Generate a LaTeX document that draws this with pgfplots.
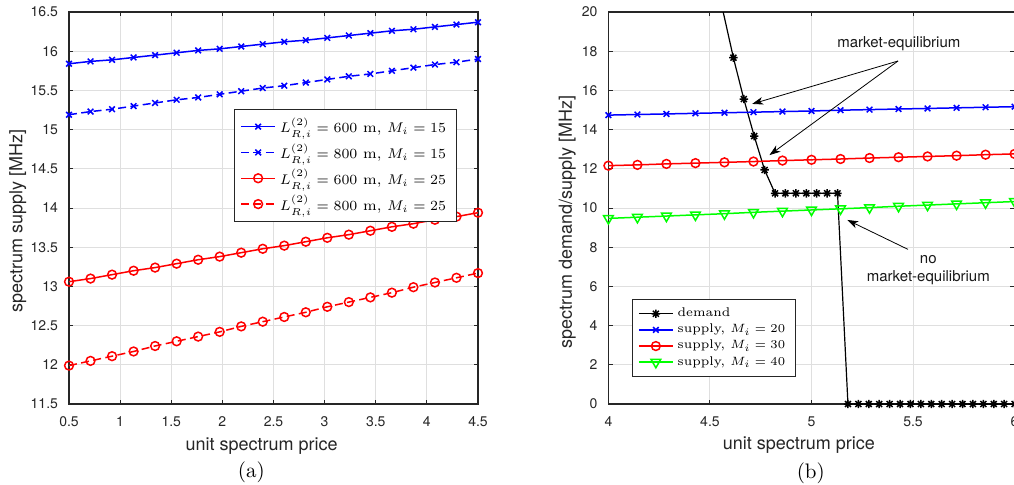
\documentclass[border=0pt]{standalone}
\usepackage{fontspec}
\usepackage{pgfplots}
\pgfplotsset{compat=1.18}
\usetikzlibrary{arrows.meta}
\newfontfamily\hel{TeX Gyre Heros}
\definecolor{axgray}{HTML}{262626}
\definecolor{gridgray}{HTML}{DFDFDF}
\definecolor{mblue}{HTML}{0000FF}
\definecolor{mred}{HTML}{FF0000}
\definecolor{mgreen}{HTML}{00FF00}

% eight-spoke star as used for the demand curve
\pgfdeclareplotmark{mstar}{%
  \pgfpathmoveto{\pgfqpoint{-\pgfplotmarksize}{0pt}}%
  \pgfpathlineto{\pgfqpoint{\pgfplotmarksize}{0pt}}%
  \pgfpathmoveto{\pgfqpoint{0pt}{-\pgfplotmarksize}}%
  \pgfpathlineto{\pgfqpoint{0pt}{\pgfplotmarksize}}%
  \pgfpathmoveto{\pgfqpoint{-0.707\pgfplotmarksize}{-0.707\pgfplotmarksize}}%
  \pgfpathlineto{\pgfqpoint{0.707\pgfplotmarksize}{0.707\pgfplotmarksize}}%
  \pgfpathmoveto{\pgfqpoint{-0.707\pgfplotmarksize}{0.707\pgfplotmarksize}}%
  \pgfpathlineto{\pgfqpoint{0.707\pgfplotmarksize}{-0.707\pgfplotmarksize}}%
  \pgfusepathqstroke}

\pgfplotsset{
  mstyle/.style={
    scale only axis, height=196pt, anchor=south west,
    axis line style={axgray, line width=0.6pt},
    tick style={axgray, line width=0.5pt},
    tick align=inside, major tick length=2.2pt,
    grid=major, grid style={gridgray, line width=0.5pt},
    /pgf/number format/assume math mode=true,
    tick label style={font=\hel\fontsize{7}{8}\selectfont, text=axgray},
    xticklabel style={yshift=-3pt},
    yticklabel style={xshift=-2pt},
    label style={font=\hel\fontsize{9}{10}\selectfont, text=axgray},
    legend style={draw=axgray, line width=0.5pt, fill=white,
      font=\fontsize{7.3}{8.5}\selectfont, legend cell align=left},
  },
}
\tikzset{
  ann/.style={font=\hel\fontsize{7.5}{9.2}\selectfont, text=black!90},
  arr/.style={line width=0.4pt, -{Stealth[length=5.5pt,width=3.8pt,inset=1.6pt]}},
}

% left panel: supply vs unit price
\pgfplotstableread{
x      a      b      c      d
0.5000 15.84  15.19  13.06  11.99
0.7105 15.87  15.23  13.10  12.05
0.9211 15.89  15.26  13.15  12.11
1.1316 15.92  15.30  13.20  12.17
1.3421 15.95  15.34  13.24  12.24
1.5526 15.98  15.38  13.29  12.30
1.7632 16.01  15.41  13.34  12.36
1.9737 16.03  15.45  13.38  12.42
2.1842 16.06  15.49  13.43  12.49
2.3947 16.09  15.53  13.48  12.55
2.6053 16.12  15.56  13.52  12.61
2.8158 16.14  15.60  13.57  12.67
3.0263 16.17  15.64  13.62  12.74
3.2368 16.20  15.68  13.66  12.80
3.4474 16.23  15.71  13.71  12.86
3.6579 16.26  15.75  13.76  12.92
3.8684 16.28  15.79  13.80  12.99
4.0789 16.31  15.83  13.85  13.05
4.2895 16.34  15.86  13.89  13.11
4.5000 16.37  15.90  13.94  13.17
}\supplyA

% right panel: supply for M_i = 20, 30, 40
\pgfplotstableread{
x      s20    s30    s40
4.0000 14.74  12.16   9.47
4.1429 14.77  12.20   9.53
4.2857 14.80  12.25   9.59
4.4286 14.83  12.29   9.65
4.5714 14.86  12.33   9.71
4.7143 14.89  12.37   9.78
4.8571 14.92  12.42   9.84
5.0000 14.95  12.46   9.90
5.1429 14.99  12.50   9.96
5.2857 15.02  12.55  10.02
5.4286 15.05  12.59  10.09
5.5714 15.08  12.63  10.15
5.7143 15.11  12.67  10.21
5.8571 15.14  12.72  10.27
6.0000 15.17  12.76  10.33
}\supplyB

% demand, part above the axis (line only)
\pgfplotstableread{
x      dem
4.5128 22.60
4.5641 20.05
4.6154 17.67
}\demandtop

% demand inside the axis
\pgfplotstableread{
x      dem
4.6154 17.67
4.6667 15.56
4.7179 13.67
4.7692 11.94
4.8205 10.75
4.8718 10.75
4.9231 10.75
4.9744 10.75
5.0256 10.75
5.0769 10.75
5.1282 10.75
5.1795 0
5.2308 0
5.2821 0
5.3333 0
5.3846 0
5.4359 0
5.4872 0
5.5385 0
5.5897 0
5.6410 0
5.6923 0
5.7436 0
5.7949 0
5.8462 0
5.8974 0
5.9487 0
6.0000 0
}\demand

\begin{document}
\begin{tikzpicture}
\begin{axis}[mstyle, width=204.5pt, at={(34.5pt,40pt)},
  xmin=0.5, xmax=4.5, ymin=11.5, ymax=16.5,
  xtick={0.5,1,1.5,2,2.5,3,3.5,4,4.5},
  ytick={11.5,12,12.5,13,13.5,14,14.5,15,15.5,16,16.5},
  xlabel={unit spectrum price}, ylabel={spectrum supply [MHz]},
  xlabel style={at={(axis description cs:0.471,-0.107)}, anchor=center},
  ylabel style={at={(axis description cs:-0.125,0.467)}, anchor=center},
  legend style={at={(axis description cs:0.403,0.752)}, anchor=north west},
]
\addplot[mblue, line width=0.75pt, mark=x, mark size=2pt] table[x=x, y=a] {\supplyA};
\addlegendentry{$L_{R,i}^{(2)}=600$ m, $M_i=15$}
\addplot[mblue, line width=0.75pt, dash pattern=on 4pt off 2.2pt, mark=x, mark size=2pt, mark options={solid}] table[x=x, y=b] {\supplyA};
\addlegendentry{$L_{R,i}^{(2)}=800$ m, $M_i=15$}
\addplot[mred, line width=0.75pt, mark=o, mark size=2.2pt] table[x=x, y=c] {\supplyA};
\addlegendentry{$L_{R,i}^{(2)}=600$ m, $M_i=25$}
\addplot[mred, line width=0.75pt, dash pattern=on 4pt off 2.2pt, mark=o, mark size=2.2pt, mark options={solid}] table[x=x, y=d] {\supplyA};
\addlegendentry{$L_{R,i}^{(2)}=800$ m, $M_i=25$}
\end{axis}

\begin{axis}[mstyle, width=203.1pt, at={(304.2pt,40pt)},
  xmin=4, xmax=6, ymin=0, ymax=20,
  xtick={4,4.5,5,5.5,6}, ytick={0,2,4,6,8,10,12,14,16,18,20},
  xlabel={unit spectrum price}, ylabel={spectrum demand/supply [MHz]},
  xlabel style={at={(axis description cs:0.469,-0.106)}, anchor=center},
  ylabel style={at={(axis description cs:-0.101,0.465)}, anchor=center},
  legend style={at={(axis description cs:0.057,0.07)}, anchor=south west,
    font=\fontsize{6.3}{7.4}\selectfont, row sep=-1.8pt},
]
\addplot[black, line width=0.6pt, forget plot] table[x=x, y=dem] {\demandtop};
\addplot[black, line width=0.6pt, mark=mstar, mark size=2.1pt, mark options={line width=0.75pt}] table[x=x, y=dem] {\demand};
\addlegendentry{demand}
\addplot[mblue, line width=0.75pt, mark=x, mark size=2pt] table[x=x, y=s20] {\supplyB};
\addlegendentry{supply, $M_i=20$}
\addplot[mred, line width=0.75pt, mark=o, mark size=2.2pt] table[x=x, y=s30] {\supplyB};
\addlegendentry{supply, $M_i=30$}
\addplot[mgreen, line width=0.75pt, mark=triangle, mark size=2.8pt, mark options={rotate=180}] table[x=x, y=s40] {\supplyB};
\addlegendentry{supply, $M_i=40$}
% annotations
\node[ann] at (axis cs:5.43,18.40) {market-equilibrium};
\draw[arr] (axis cs:5.426,17.50) -- (axis cs:4.708,15.31);
\draw[arr] (axis cs:5.426,17.50) -- (axis cs:4.793,12.70);
\node[ann, align=center] at (axis cs:5.575,6.83) {no\\market-equilibrium};
\draw[arr] (axis cs:5.475,7.89) -- (axis cs:5.176,9.39);
\end{axis}

\node[font=\fontsize{10.5}{12}\selectfont] at (125.7pt,5.8pt) {(a)};
\node[font=\fontsize{10.5}{12}\selectfont] at (405.4pt,5.3pt) {(b)};
\pgfresetboundingbox
\path[use as bounding box] (0,0) rectangle (507pt,242pt);
\end{tikzpicture}
\end{document}
